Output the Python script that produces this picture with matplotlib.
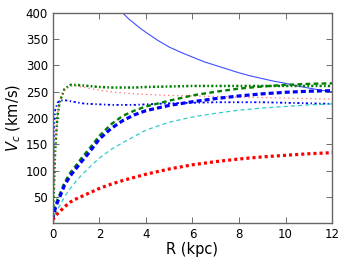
import numpy as np
import matplotlib
matplotlib.use('Agg')
import matplotlib.pyplot as plt

# radius grid (kpc)
R = [0, 0.02, 0.05, 0.1, 0.2, 0.3, 0.5, 0.75, 1, 1.25, 1.5, 2, 2.5, 3, 3.5, 4, 5, 6, 7, 8, 9, 10, 11, 12]

# rotation curves (km/s)
v_green_dashdot = [0, 30, 75, 140, 205, 232, 255, 263, 263, 262, 261, 259, 258, 258, 258, 259, 260, 261, 261, 261, 261, 261, 261, 261]
v_red_thin = [0, 30, 75, 140, 205, 232, 254, 261, 261, 259, 257, 253, 250, 248, 246, 245, 243, 242, 241, 240, 239, 238, 237, 236]
v_blue_dashdot = [0, 120, 185, 215, 229, 233, 234, 232, 230, 228, 227, 226, 225, 225, 225, 226, 228, 229, 230, 230, 230, 229, 228, 227]
v_green_dashed = [8, 16, 24, 32, 45, 55, 77, 96, 110, 125, 138, 166, 188, 204, 214, 222, 233, 243, 250, 256, 260, 263, 265, 266]
v_blue_dashed = [6, 13, 20, 27, 40, 50, 72, 90, 104, 118, 131, 160, 180, 195, 206, 214, 224, 231, 237, 242, 246, 249, 251, 252]
v_cyan_dashed = [3, 8, 13, 18, 26, 33, 50, 66, 80, 92, 103, 124, 140, 153, 165, 177, 192, 202, 209, 215, 219, 222, 225, 227]
v_red_dotted = [6, 8, 10, 13, 18, 22, 31, 40, 46, 51, 56, 66, 74, 81, 87, 93, 103, 111, 117, 122, 126, 129, 132, 134]

# falling curve
R_kep = [2.9, 3, 3.25, 3.5, 3.75, 4, 4.5, 5, 5.5, 6, 6.5, 7, 7.5, 8, 8.5, 9, 9.5, 10, 10.5, 11, 11.5, 12]
v_kep = [405, 400, 389, 380, 371, 363, 348, 335, 325, 316, 307, 300, 293, 286, 280, 275, 270, 266, 261, 257, 253, 250]

plt.rcParams['font.family'] = ['DejaVu Sans']
plt.rcParams['lines.scale_dashes'] = False
fig = plt.figure(figsize=(3.5, 2.64), dpi=100)
ax = fig.add_axes([0.151, 0.155, 0.798, 0.796])

ax.plot(R_kep, v_kep, '-', color='#3f4fff', lw=0.8)
ax.plot(R, v_green_dashdot, color='g', lw=1.8, dashes=(1.6, 1.6, 1.2, 1.6))
ax.plot(R, v_red_thin, color='#ff5555', lw=0.9, dashes=(1.0, 2.2), alpha=0.8)
ax.plot(R, v_blue_dashdot, color='b', lw=1.3, dashes=(1.6, 1.8, 1.0, 1.8))
ax.plot(R, v_cyan_dashed, color='c', lw=0.9, dashes=(3.0, 2.2), alpha=0.8)
ax.plot(R, v_green_dashed, color='g', lw=1.7, dashes=(3.4, 2.4))
ax.plot(R, v_blue_dashed, color='b', lw=2.3, dashes=(3.6, 2.2))
ax.plot(R, v_red_dotted, color='r', lw=2.3, dashes=(2.2, 2.2))

ax.set_xlim(0, 12)
ax.set_ylim(0, 400)
ax.set_xticks([0, 2, 4, 6, 8, 10, 12])
ax.set_yticks([50, 100, 150, 200, 250, 300, 350, 400])
ax.tick_params(direction='in', top=True, right=True, labelsize=8.5, length=4, width=0.6, colors='#555555', labelcolor='black')
for s in ax.spines.values():
    s.set_color('#666666')
    s.set_linewidth(1.0)

ax.set_xlabel('R (kpc)', fontsize=10.5, labelpad=1)
ax.set_ylabel(r'$V_c$ (km/s)', fontsize=10.5, labelpad=2)

fig.savefig('out.png', dpi=100)
